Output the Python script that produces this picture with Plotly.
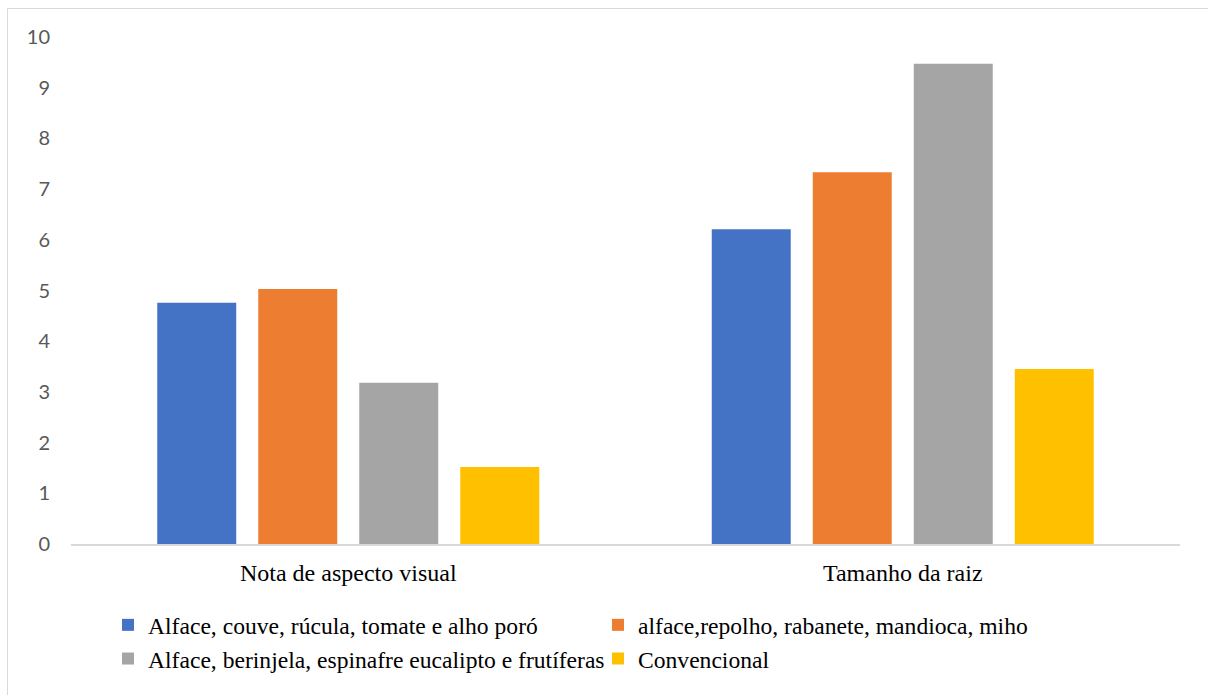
import plotly.graph_objects as go

categories = ["Nota de aspecto visual", "Tamanho da raiz"]
series_names = [
    "Alface, couve, rúcula, tomate e alho poró",
    "alface,repolho, rabanete, mandioca, miho",
    "Alface, berinjela, espinafre eucalipto e frutíferas",
    "Convencional",
]
s1 = [4.76, 6.21]
s2 = [5.03, 7.33]
s3 = [3.18, 9.47]
s4 = [1.52, 3.45]
colors = ["#4472C4", "#ED7D31", "#A5A5A5", "#FFC000"]
y_ticks = [0, 1, 2, 3, 4, 5, 6, 7, 8, 9, 10]

SERIF = "Liberation Serif"

fig = go.Figure()
for name, vals, col in zip(series_names, [s1, s2, s3, s4], colors):
    fig.add_trace(go.Bar(x=categories, y=vals, name=name, marker=dict(color=col, line=dict(width=0))))

W, H = 1208, 695
ml, mr, mt, mb = 71, 28, 37, 151
pw = W - ml - mr
ph = H - mt - mb

fig.update_layout(
    width=W, height=H,
    margin=dict(l=ml, r=mr, t=mt, b=mb, pad=0, autoexpand=False),
    paper_bgcolor="white", plot_bgcolor="white",
    barmode="group", bargap=0.2714, bargroupgap=0.218,
    showlegend=True,
    legend=dict(
        orientation="h", x=(108 - ml) / pw, xanchor="left",
        y=(544 - 603) / ph, yanchor="top",
        entrywidth=445, entrywidthmode="pixels",
        font=dict(family=SERIF, size=23.6, color="#000000"),
        itemwidth=30, tracegroupgap=0, bgcolor="rgba(0,0,0,0)",
    ),
    xaxis=dict(
        showgrid=False, showline=True, linecolor="#D9D9D9", linewidth=1.5,
        ticks="", tickfont=dict(family=SERIF, size=24, color="#000000"),
        ticklabelstandoff=6, zeroline=False,
    ),
    yaxis=dict(
        range=[0, 10], tickvals=y_ticks, showgrid=False, zeroline=False, showline=False,
        ticks="", tickfont=dict(family="Lato", size=20, color="#595959"),
        ticklabelstandoff=20,
    ),
    shapes=[dict(
        type="rect", xref="paper", yref="paper",
        x0=(7.5 - ml) / pw, x1=(1215 - ml) / pw,
        y0=(544 - 705) / ph, y1=(544 - 8.5) / ph,
        line=dict(color="#D9D9D9", width=1), fillcolor="rgba(0,0,0,0)", layer="below",
    )],
)

fig.write_html("out.html")
